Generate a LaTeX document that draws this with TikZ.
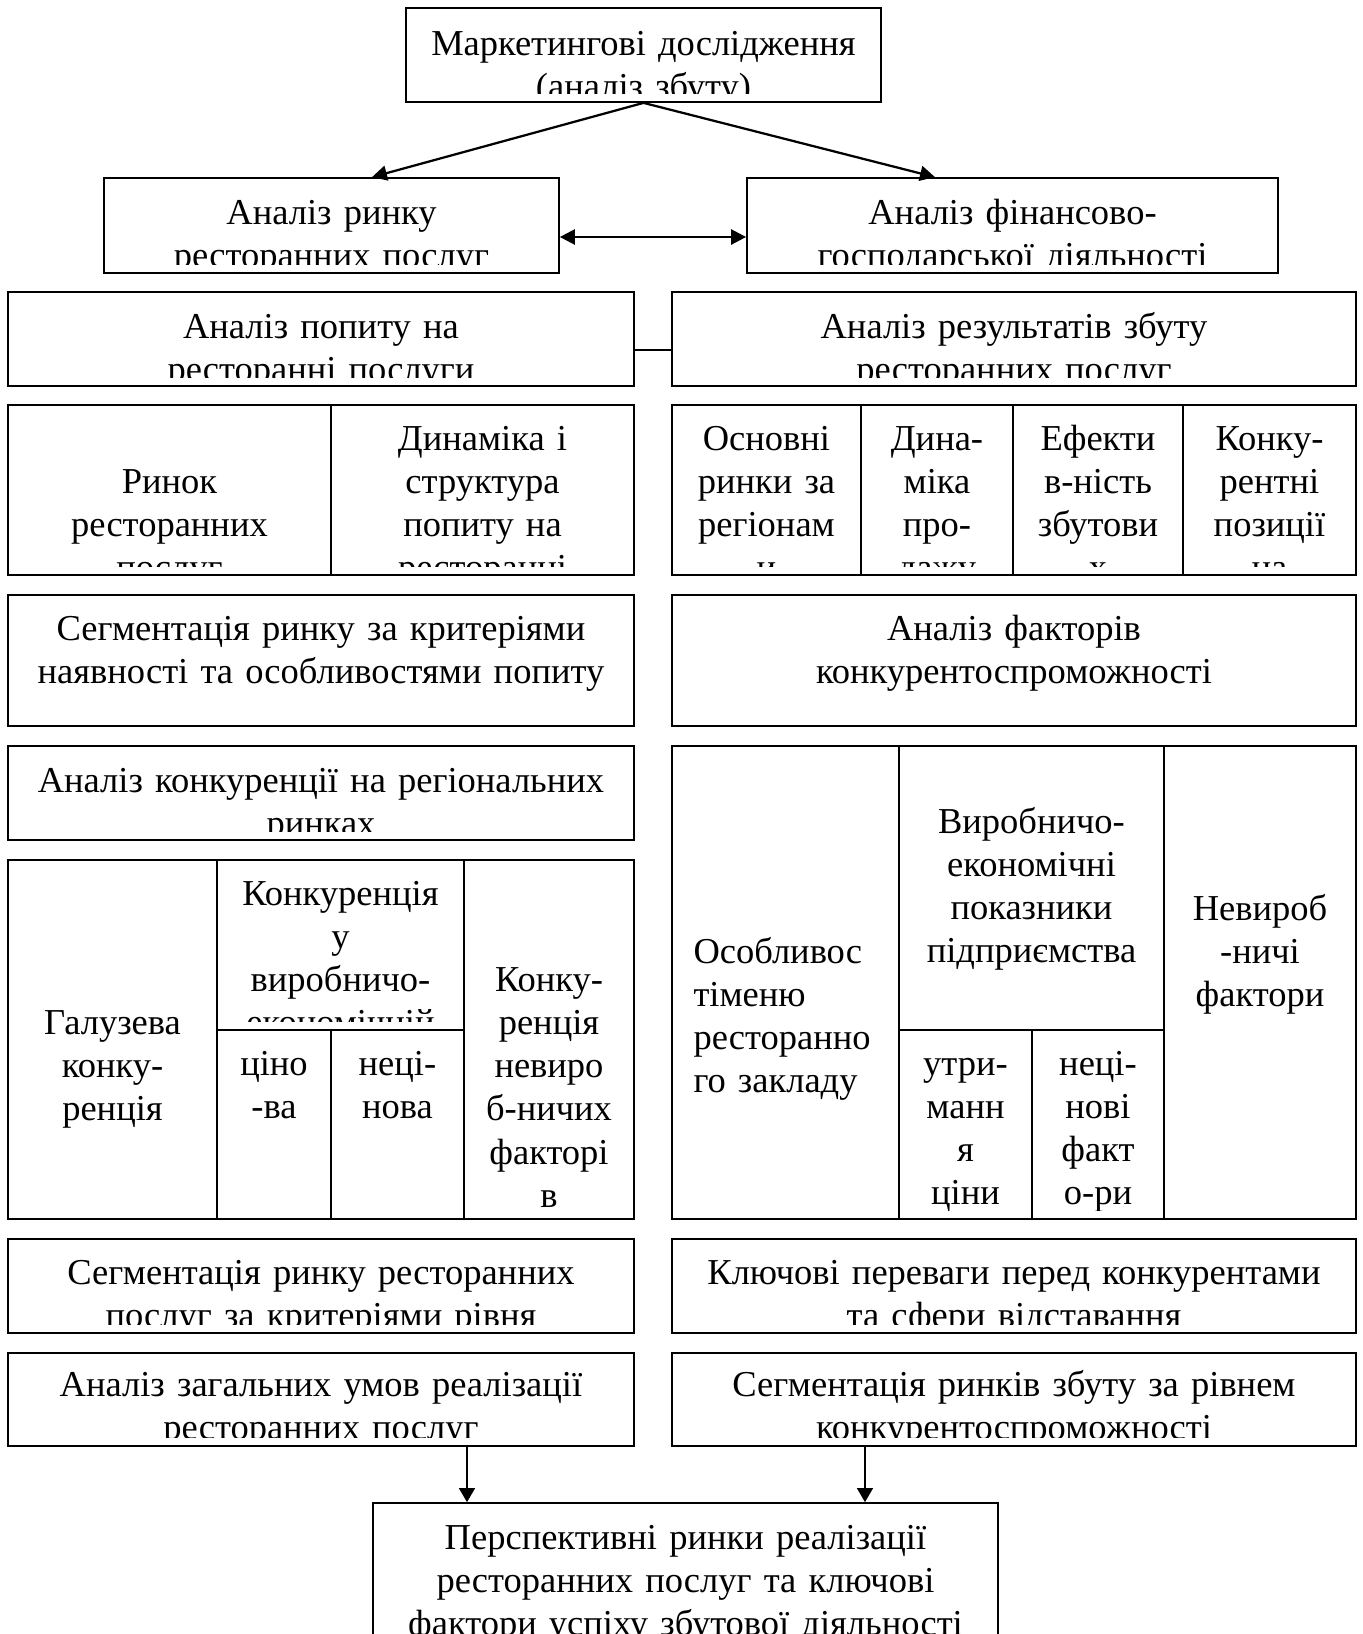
\documentclass[tikz,border=0pt]{standalone}
\usepackage{fontspec}
\setmainfont{Liberation Serif}
\usetikzlibrary{arrows.meta,fit}

\tikzstyle{box} = [draw, line width=0.7pt, inner sep=0pt]
\tikzstyle{txt} = [font=\fontsize{14.6}{17.3}\selectfont, text width=270pt, align=center, inner sep=0pt, anchor=base]
\tikzstyle{arr} = [line width=0.9pt, -{Triangle[length=6pt,width=6pt]}]
\tikzstyle{dbl} = [line width=1pt, {Triangle[length=6pt,width=6pt]}-{Triangle[length=6pt,width=6pt]}]
\tikzstyle{down} = [line width=0.5pt, -{Triangle[length=5.6pt,width=6.4pt]}]
\tikzstyle{link} = [line width=0.8pt]

% text of a box, cut off above its lower edge
\newcommand{\boxtext}[4][]{%
  \begin{scope}
    \clip (#2.north west) rectangle ([yshift=3.6pt]#2.south east);
    \node[txt,#1] at (#2.center |- 0,#3) {#4};
  \end{scope}}

\begin{document}
\begin{tikzpicture}[x=0.4pt, y=-0.4pt]
\useasboundingbox (0,0) rectangle (1362,1634);
\clip (0,0) rectangle (1362,1634);

% top level
\node[box, fit={(406,8)(881,102)}] (top) {};
\boxtext{top}{55}{Маркетингові дослідження\\(аналіз збуту)}

\node[box, fit={(104,178)(559,273)}] (l2) {};
\boxtext{l2}{224}{Аналіз ринку\\ресторанних послуг}
\node[box, fit={(747,178)(1278,273)}] (r2) {};
\boxtext{r2}{224}{Аналіз фінансово-\\господарської діяльності}

\node[box, fit={(8,292)(634,386)}] (l3) {};
\boxtext{l3}{338}{Аналіз попиту на\\ресторанні послуги}
\node[box, fit={(672,292)(1356,386)}] (r3) {};
\boxtext{r3}{338}{Аналіз результатів збуту\\ресторанних послуг}

% demand
\node[box, fit={(8,405)(331,575)}] (l4a) {};
\boxtext{l4a}{493}{Ринок\\ресторанних\\послуг}
\node[box, fit={(331,405)(634,575)}] (l4b) {};
\boxtext{l4b}{450}{Динаміка і\\структура\\попиту на\\ресторанні}

% sales results
\node[box, fit={(672,405)(861,575)}] (r4a) {};
\boxtext{r4a}{450}{Основні\\ринки за\\регіонам\\и}
\node[box, fit={(861,405)(1013,575)}] (r4b) {};
\boxtext{r4b}{450}{Дина-\\міка\\про-\\дажу}
\node[box, fit={(1013,405)(1183,575)}] (r4c) {};
\boxtext{r4c}{450}{Ефекти\\в-ність\\збутови\\х}
\node[box, fit={(1183,405)(1356,575)}] (r4d) {};
\boxtext{r4d}{450}{Конку-\\рентні\\позиції\\на}

\node[box, fit={(8,595)(634,726)}] (l5) {};
\boxtext{l5}{640}{Сегментація ринку за критеріями\\наявності та особливостями попиту}
\node[box, fit={(672,595)(1356,726)}] (r5) {};
\boxtext{r5}{640}{Аналіз факторів\\конкурентоспроможності}

\node[box, fit={(8,746)(634,840)}] (l6) {};
\boxtext{l6}{792}{Аналіз конкуренції на регіональних\\ринках}

% competition
\node[box, fit={(8,860)(217,1219)}] (l7a) {};
\boxtext{l7a}{1034}{Галузева\\конку-\\ренція}
\node[box, fit={(217,860)(464,1030)}] (l7b) {};
\boxtext{l7b}{905}{Конкуренція\\у\\виробничо-\\економічній}
\node[box, fit={(464,860)(634,1219)}] (l7c) {};
\boxtext{l7c}{991}{Конку-\\ренція\\невиро\\б-ничих\\факторі\\в}
\node[box, fit={(217,1030)(331,1219)}] (l7d) {};
\boxtext{l7d}{1075}{ціно\\-ва}
\node[box, fit={(331,1030)(464,1219)}] (l7e) {};
\boxtext{l7e}{1075}{неці-\\нова}

% competitiveness factors
\node[box, fit={(672,746)(899,1219)}] (r6a) {};
\boxtext[align=left, anchor=base west, text width=100pt, xshift=-37pt]{r6a}{963}{Особливос\\тіменю\\ресторанно\\го закладу}
\node[box, fit={(899,746)(1164,1030)}] (r6b) {};
\boxtext{r6b}{833}{Виробничо-\\економічні\\показники\\підприємства}
\node[box, fit={(1164,746)(1356,1219)}] (r6c) {};
\boxtext{r6c}{920}{Невироб\\-ничі\\фактори}
\node[box, fit={(899,1030)(1032,1219)}] (r6d) {};
\boxtext{r6d}{1075}{утри-\\манн\\я\\ціни}
\node[box, fit={(1032,1030)(1164,1219)}] (r6e) {};
\boxtext{r6e}{1075}{неці-\\нові\\факт\\о-ри}

\node[box, fit={(8,1239)(634,1333)}] (l8) {};
\boxtext{l8}{1284}{Сегментація ринку ресторанних\\послуг за критеріями рівня}
\node[box, fit={(672,1239)(1356,1333)}] (r8) {};
\boxtext{r8}{1284}{Ключові переваги перед конкурентами\\та сфери відставання}

\node[box, fit={(8,1353)(634,1446)}] (l9) {};
\boxtext{l9}{1396}{Аналіз загальних умов реалізації\\ресторанних послуг}
\node[box, fit={(672,1353)(1356,1446)}] (r9) {};
\boxtext{r9}{1396}{Сегментація ринків збуту за рівнем\\конкурентоспроможності}

\node[box, fit={(373,1503)(998,1700)}] (bot) {};
\boxtext{bot}{1549}{Перспективні ринки реалізації\\ресторанних послуг та ключові\\фактори успіху збутової діяльності}

% connectors
\coordinate (aL) at (372,0);
\coordinate (aR) at (935,0);
\coordinate (m2) at (0,237);
\coordinate (m3) at (0,350);
\coordinate (dL) at (467,0);
\coordinate (dR) at (865,0);
\draw[arr] (top.south) -- (l2.north -| aL);
\draw[arr] (top.south) -- (r2.north -| aR);
\draw[dbl] (l2.east |- m2) -- (r2.west |- m2);
\draw[link] (l3.east |- m3) -- (r3.west |- m3);
\draw[down] (l9.south -| dL) -- (bot.north -| dL);
\draw[down] (r9.south -| dR) -- (bot.north -| dR);
\end{tikzpicture}
\end{document}
